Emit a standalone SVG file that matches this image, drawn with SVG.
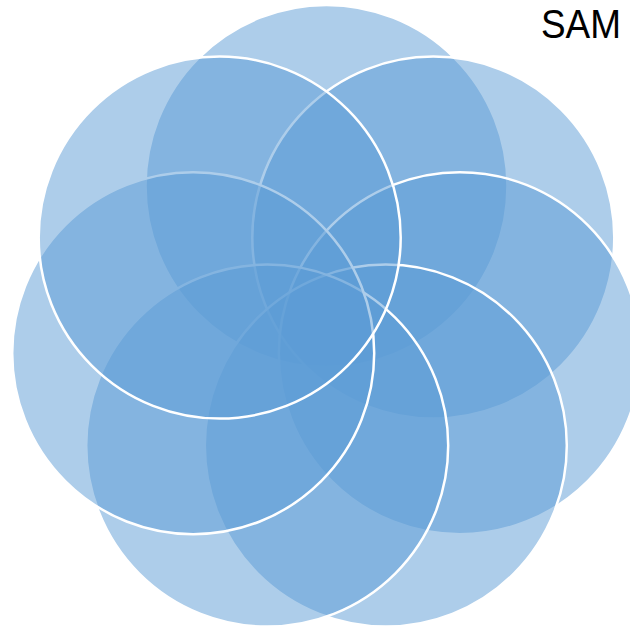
<svg xmlns="http://www.w3.org/2000/svg" width="630" height="628" viewBox="0 0 630 628">
<style>
.c{fill:#5B9BD5;fill-opacity:0.5;stroke:#FFFFFF;stroke-width:2.5}
.t{font-family:"Liberation Sans",Arial,sans-serif;font-size:40px;fill:#000000}
</style>
<rect width="630" height="628" fill="#FFFFFF"/>
<g id="circle1"><circle class="c" cx="326.5" cy="186" r="181"/></g>
<g id="circle2"><circle class="c" cx="433.3" cy="237.6" r="181"/></g>
<g id="circle3"><circle class="c" cx="459.8" cy="353.2" r="181"/></g>
<g id="circle4"><circle class="c" cx="385.8" cy="445.6" r="181"/></g>
<g id="circle5"><circle class="c" cx="267.2" cy="445.6" r="181"/></g>
<g id="circle6"><circle class="c" cx="193.2" cy="353.2" r="181"/></g>
<g id="circle7"><circle class="c" cx="219.7" cy="237.6" r="181"/></g>
<g id="connectors"/>
<g id="title"><text class="t" x="541" y="38" textLength="80" lengthAdjust="spacingAndGlyphs">SAM</text></g>
</svg>
